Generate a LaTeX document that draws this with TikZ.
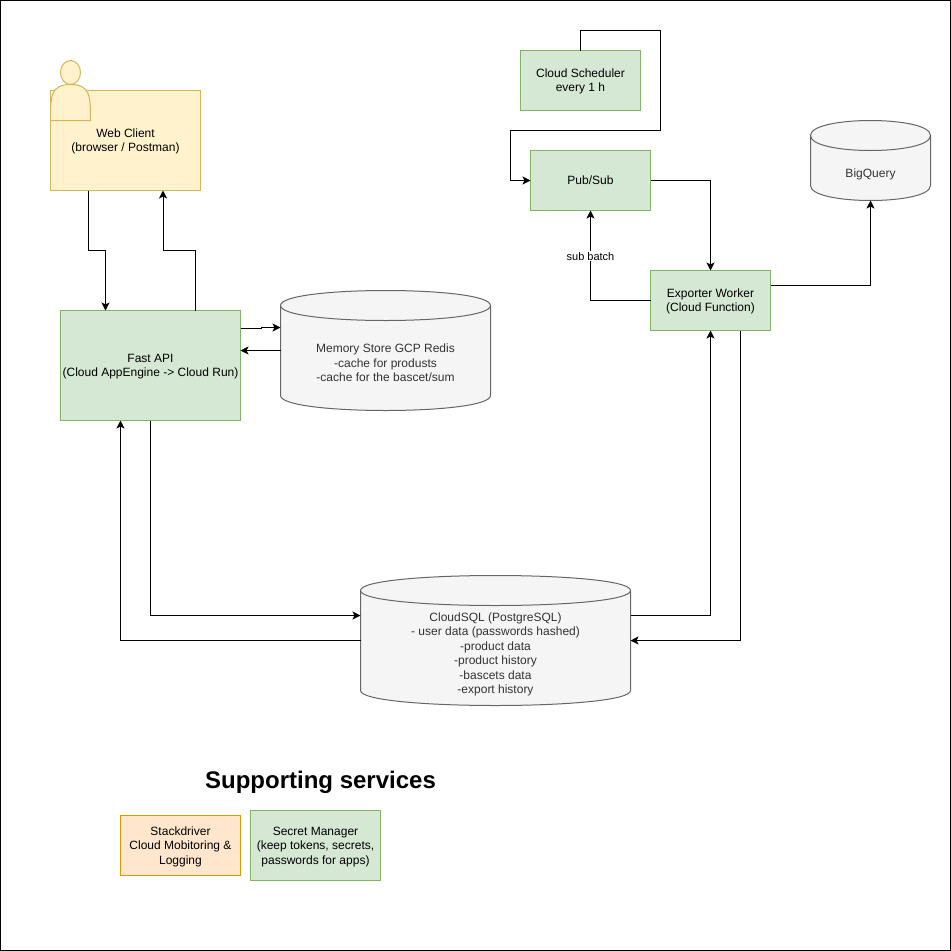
\documentclass[tikz,border=0pt]{standalone}
\usepackage{fontspec}
\setmainfont{Liberation Sans}
\usetikzlibrary{arrows.meta}
\definecolor{greenfill}{HTML}{D5E8D4}
\definecolor{greenline}{HTML}{82B366}
\definecolor{yellowfill}{HTML}{FFF2CC}
\definecolor{yellowline}{HTML}{D6B656}
\definecolor{orangefill}{HTML}{FFE6CC}
\definecolor{orangeline}{HTML}{D79B00}
\definecolor{greyfill}{HTML}{F5F5F5}
\definecolor{greyline}{HTML}{666666}
\definecolor{greytext}{HTML}{333333}
\tikzset{
  box/.style={draw, rectangle, line width=1pt, outer sep=0pt, inner sep=0pt, align=center,
    font=\fontsize{12}{14.4}\selectfont},
  greenbox/.style={box, fill=greenfill, draw=greenline},
  flow/.style={draw=black, line width=1pt, -{Stealth[length=8pt,width=8pt,inset=2pt]}},
  dbshape/.style={fill=greyfill, draw=greyline, line width=1pt},
  dbtext/.style={text=greytext, align=center, inner sep=0pt, font=\fontsize{12}{14.4}\selectfont},
}
\newcommand{\topgap}{\rule{0pt}{11pt}} %desce o texto 1pt
% #1 name, #2 left, #3 top, #4 width, #5 height
\newcommand{\dbcylinder}[5]{
  \draw[dbshape] (#2,#3+15) .. controls (#2,#3-5) and (#2+#4,#3-5) .. (#2+#4,#3+15)
    -- (#2+#4,#3+#5-15) .. controls (#2+#4,#3+#5+5) and (#2,#3+#5+5) .. (#2,#3+#5-15) -- cycle;
  \draw[dbshape, fill=none] (#2,#3+15) .. controls (#2,#3+35) and (#2+#4,#3+35) .. (#2+#4,#3+15);
  \node[minimum width=#4pt, minimum height=#5pt, inner sep=0pt, outer sep=0pt] (#1) at (#2+#4/2,#3+#5/2) {};
}
\begin{document}
\begin{tikzpicture}[x=1pt,y=-1pt]
  \useasboundingbox (0,0) rectangle (951,951);
  \draw[line width=1pt] (0.5,0.5) rectangle (950.5,950.5); %moldura
  %cilindros
  \dbcylinder{memstore}{280.5}{290.5}{210}{120}
  \dbcylinder{cloudsql}{360.5}{575.5}{270}{130}
  \dbcylinder{bigquery}{810.5}{120.5}{120}{80}
  \node[dbtext] (memstoretext) at ([yshift=-12.5pt]memstore.center) {Memory Store GCP Redis\\-cache for produsts\\-cache for the bascet/sum};
  \node[dbtext] (cloudsqltext) at ([yshift=-13.8pt]cloudsql.center) {CloudSQL (PostgreSQL)\\- user data (passwords hashed)\\-product data\\-product history\\-bascets data\\-export history};
  \node[dbtext] (bigquerytext) at ([yshift=-13.5pt]bigquery.center) {BigQuery};
  %caixas
  \node[box, fill=yellowfill, draw=yellowline, minimum width=150pt, minimum height=100pt] (webclient) at (125.5,140.5) {\topgap Web Client\\(browser / Postman)};
  \node[greenbox, minimum width=180pt, minimum height=110pt] (fastapi) at (150.5,365.5) {\topgap Fast API\\(Cloud AppEngine -> Cloud Run)};
  \node[greenbox, minimum width=120pt, minimum height=60pt] (scheduler) at (580.5,80.5) {\topgap Cloud Scheduler\\every 1 h};
  \node[greenbox, minimum width=120pt, minimum height=60pt] (pubsub) at (590.5,180.5) {Pub/Sub};
  \node[greenbox, minimum width=120pt, minimum height=60pt] (exporter) at (710.5,300.5) {\topgap Exporter Worker\\(Cloud Function)};
  \node[box, fill=orangefill, draw=orangeline, minimum width=120pt, minimum height=60pt] (stackdriver) at (180.5,845.5) {\topgap Stackdriver\\Cloud Mobitoring \&\\Logging};
  \node[greenbox, minimum width=130pt, minimum height=70pt] (secrets) at (315.5,845.5) {\topgap Secret Manager\\(keep tokens, secrets,\\passwords for apps)};
  \node[font=\fontsize{24}{28}\selectfont\bfseries, inner sep=0pt] (supporting) at (320.5,782.5) {Supporting services};
  %usuario
  \filldraw[fill=yellowfill, draw=yellowline, line width=1pt] (70.5,72.5) ellipse (10pt and 12pt);
  \filldraw[fill=yellowfill, draw=yellowline, line width=1pt] (50.5,120.5) .. controls (50.5,96.5) and (50.5,84.5) .. (70.5,84.5)
    .. controls (90.5,84.5) and (90.5,96.5) .. (90.5,120.5) -- cycle;
  %setas
  \draw[flow] ([xshift=-37.5pt]webclient.south) -- (88,250.5) -- (105.5,250.5) -- ([xshift=-45pt]fastapi.north);
  \draw[flow] ([xshift=45pt]fastapi.north) -- (195.5,250.5) -- (163,250.5) -- ([xshift=37.5pt]webclient.south);
  \draw[flow] ([yshift=37.5pt]fastapi.east) -- (261,328) -- (261,327.5) -- (memstore.west |- 0,327.5);
  \draw[flow] (memstore.west |- 0,350.5) -- ([yshift=15pt]fastapi.east);
  \draw[flow] (fastapi.south) |- (cloudsql.west |- 0,615.5);
  \draw[flow] (cloudsql.west |- 0,640.5) -| ([xshift=-30pt]fastapi.south);
  \draw[flow] (cloudsql.east |- 0,615.5) -| (exporter.south);
  \draw[flow] ([xshift=30pt]exporter.south) |- (cloudsql.east |- 0,640.5);
  \draw[flow] (scheduler.north) -- (580.5,30.5) -- (660.5,30.5) -- (660.5,130.5) -- (510.5,130.5) -- (510.5,180.5) -- (pubsub.west);
  \draw[flow] (pubsub.east) -| (exporter.north);
  \draw[flow] (exporter.west) -| (pubsub.south) node[pos=0.745, fill=white, inner sep=1pt, font=\fontsize{11}{13}\selectfont] (subbatch) {sub batch};
  \draw[flow] ([yshift=15pt]exporter.east) -| (bigquery.south);
\end{tikzpicture}
\end{document}
